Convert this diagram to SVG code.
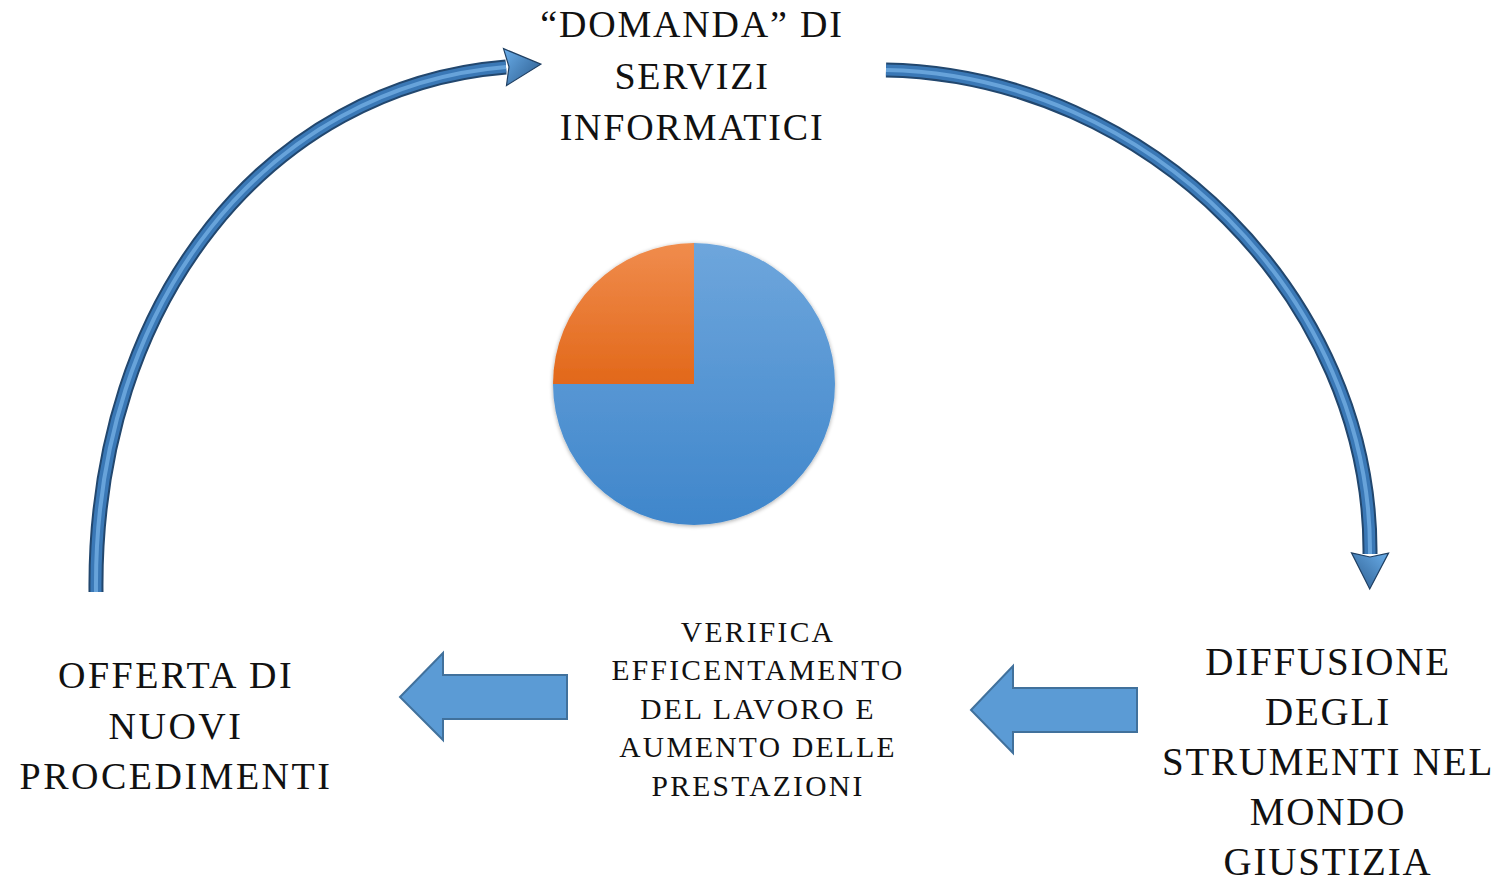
<svg xmlns="http://www.w3.org/2000/svg" xmlns:xlink="http://www.w3.org/1999/xlink" width="1504" height="882" viewBox="0 0 1504 882">
  <style>
    .lbl { font-family: "Liberation Serif", "Times New Roman", serif; fill: #111; text-anchor: middle; }
    .top { font-size: 38px; letter-spacing: 1.8px; }
    .right { font-size: 39px; letter-spacing: 1.8px; }
    .left { font-size: 38px; letter-spacing: 2.5px; }
    .mid { font-size: 29.5px; letter-spacing: 2.3px; }
    .tube-outer { fill: none; stroke: #22476e; stroke-width: 15; }
    .tube-mid { fill: none; stroke: #3a78b6; stroke-width: 11; }
    .tube-hi { fill: none; stroke: #67a3da; stroke-width: 4; }
    .block { fill: #5b9bd5; stroke: #41719c; stroke-width: 2; stroke-linejoin: miter; }
  </style>
  <defs>
    <linearGradient id="gBlue" x1="0" y1="0" x2="0" y2="1">
      <stop offset="0" stop-color="#6ea6dc"/>
      <stop offset="1" stop-color="#3f86cb"/>
    </linearGradient>
    <linearGradient id="gOrange" x1="0" y1="0" x2="0" y2="1">
      <stop offset="0" stop-color="#f08c4d"/>
      <stop offset="1" stop-color="#e2681a"/>
    </linearGradient>
    <linearGradient id="gHead" x1="0" y1="0" x2="1" y2="1">
      <stop offset="0" stop-color="#6aaeea"/>
      <stop offset="1" stop-color="#2a5a8c"/>
    </linearGradient>
    <filter id="soft" x="-10%" y="-10%" width="120%" height="120%">
      <feGaussianBlur in="SourceAlpha" stdDeviation="2"/>
      <feOffset dx="0" dy="1" result="b"/>
      <feComponentTransfer><feFuncA type="linear" slope="0.35"/></feComponentTransfer>
      <feMerge><feMergeNode/><feMergeNode in="SourceGraphic"/></feMerge>
    </filter>
    <marker id="head" markerUnits="userSpaceOnUse" markerWidth="44" markerHeight="44" viewBox="-4 -22 44 44" refX="1" refY="0" orient="auto">
      <path d="M0,-18.5 L36,0 L0,18.5 L4,0 Z" fill="url(#gHead)" stroke="#1f3f62" stroke-width="1.2"/>
    </marker>
    <path id="arcL" d="M 96 592 C 93 300, 270 86, 506 67"/>
    <path id="arcR" d="M 886 70 C 1150 75, 1372 300, 1370 554"/>
  </defs>

  <g id="connectors">
    <use xlink:href="#arcL" class="tube-outer" marker-end="url(#head)"/>
    <use xlink:href="#arcL" class="tube-mid"/>
    <use xlink:href="#arcL" class="tube-hi"/>
    <use xlink:href="#arcR" class="tube-outer" marker-end="url(#head)"/>
    <use xlink:href="#arcR" class="tube-mid"/>
    <use xlink:href="#arcR" class="tube-hi"/>
    <polygon class="block" points="400,697 443,653 443,675 567,675 567,719 443,719 443,740"/>
    <polygon class="block" points="971,710 1013,666 1013,688 1137,688 1137,732 1013,732 1013,753"/>
  </g>

  <g id="pie" filter="url(#soft)">
    <path d="M694,384 L694,243 A141,141 0 1 1 553,384 Z" fill="url(#gBlue)"/>
    <path d="M694,384 L553,384 A141,141 0 0 1 694,243 Z" fill="url(#gOrange)"/>
  </g>

  <g id="node-domanda">
    <text class="lbl top" x="692" y="37">“DOMANDA” DI</text>
    <text class="lbl top" x="692" y="89">SERVIZI</text>
    <text class="lbl top" x="692" y="140">INFORMATICI</text>
  </g>

  <g id="node-diffusione">
    <text class="lbl right" x="1328" y="675">DIFFUSIONE</text>
    <text class="lbl right" x="1328" y="725">DEGLI</text>
    <text class="lbl right" x="1328" y="775">STRUMENTI NEL</text>
    <text class="lbl right" x="1328" y="825">MONDO</text>
    <text class="lbl right" x="1328" y="875">GIUSTIZIA</text>
  </g>

  <g id="node-verifica">
    <text class="lbl mid" x="758" y="642">VERIFICA</text>
    <text class="lbl mid" x="758" y="680">EFFICENTAMENTO</text>
    <text class="lbl mid" x="758" y="719">DEL LAVORO E</text>
    <text class="lbl mid" x="758" y="757">AUMENTO DELLE</text>
    <text class="lbl mid" x="758" y="796">PRESTAZIONI</text>
  </g>

  <g id="node-offerta">
    <text class="lbl left" x="176" y="688">OFFERTA DI</text>
    <text class="lbl left" x="176" y="739">NUOVI</text>
    <text class="lbl left" x="176" y="789">PROCEDIMENTI</text>
  </g>
</svg>
